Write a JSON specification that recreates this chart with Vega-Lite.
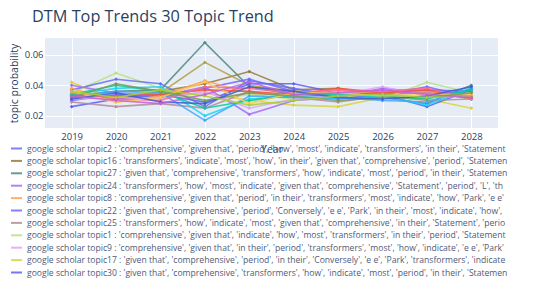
{
  "$schema": "https://vega.github.io/schema/vega-lite/v6.json",
  "width": 453,
  "height": 90,
  "autosize": {"type": "none"},
  "padding": {"left": 45, "top": 38, "right": 52, "bottom": 156},
  "background": "white",
  "title": {
    "text": "DTM Top Trends 30 Topic Trend",
    "anchor": "start",
    "frame": "group",
    "dx": -13,
    "fontSize": 16.3,
    "font": "Open Sans",
    "fontWeight": "normal",
    "color": "#2a3f5f",
    "offset": 13
  },
  "config": {
    "font": "Open Sans",
    "view": {"fill": "#e5ecf6", "stroke": null},
    "axis": {
      "gridColor": "white",
      "gridWidth": 1,
      "domain": false,
      "ticks": false,
      "labelColor": "#2a3f5f",
      "titleColor": "#2a3f5f",
      "labelFontSize": 9.5,
      "titleFontSize": 10.5,
      "titleFontWeight": "normal",
      "labelFont": "Open Sans",
      "titleFont": "Open Sans"
    }
  },
  "datasets": {
    "names": [
      {"topic": "topic2", "name": "google scholar topic2 : 'comprehensive', 'given that', 'period', 'how', 'most', 'indicate', 'transformers', 'in their', 'Statement"},
      {"topic": "topic16", "name": "google scholar topic16 : 'transformers', 'indicate', 'most', 'how', 'in their', 'given that', 'comprehensive', 'period', 'Statemen"},
      {"topic": "topic27", "name": "google scholar topic27 : 'given that', 'comprehensive', 'transformers', 'how', 'indicate', 'most', 'period', 'in their', 'Statemen"},
      {"topic": "topic24", "name": "google scholar topic24 : 'transformers', 'how', 'most', 'indicate', 'given that', 'comprehensive', 'Statement', 'period', 'L', 'th"},
      {"topic": "topic8", "name": "google scholar topic8 : 'comprehensive', 'given that', 'period', 'in their', 'transformers', 'most', 'indicate', 'how', 'Park', 'e e'"},
      {"topic": "topic22", "name": "google scholar topic22 : 'given that', 'comprehensive', 'period', 'Conversely', 'e e', 'Park', 'in their', 'most', 'indicate', 'how',"},
      {"topic": "topic25", "name": "google scholar topic25 : 'transformers', 'how', 'indicate', 'most', 'given that', 'comprehensive', 'in their', 'Statement', 'perio"},
      {"topic": "topic1", "name": "google scholar topic1 : 'comprehensive', 'given that', 'indicate', 'how', 'most', 'transformers', 'in their', 'period', 'Statement"},
      {"topic": "topic9", "name": "google scholar topic9 : 'comprehensive', 'given that', 'in their', 'period', 'transformers', 'most', 'how', 'indicate', 'e e', 'Park'"},
      {"topic": "topic17", "name": "google scholar topic17 : 'given that', 'comprehensive', 'period', 'in their', 'Conversely', 'e e', 'Park', 'transformers', 'indicate"},
      {"topic": "topic30", "name": "google scholar topic30 : 'given that', 'comprehensive', 'transformers', 'how', 'indicate', 'most', 'period', 'in their', 'Statemen"},
      {"topic": "topic3", "name": "google scholar topic3"},
      {"topic": "topic4", "name": "google scholar topic4"},
      {"topic": "topic5", "name": "google scholar topic5"},
      {"topic": "topic6", "name": "google scholar topic6"},
      {"topic": "topic7", "name": "google scholar topic7"},
      {"topic": "topic10", "name": "google scholar topic10"},
      {"topic": "topic11", "name": "google scholar topic11"},
      {"topic": "topic12", "name": "google scholar topic12"},
      {"topic": "topic13", "name": "google scholar topic13"},
      {"topic": "topic14", "name": "google scholar topic14"},
      {"topic": "topic15", "name": "google scholar topic15"}
    ],
    "trend": [
      {"topic": "topic27", "year": 2019, "prob": 0.033}, {"topic": "topic27", "year": 2020, "prob": 0.036}, {"topic": "topic27", "year": 2021, "prob": 0.037}, {"topic": "topic27", "year": 2022, "prob": 0.068}, {"topic": "topic27", "year": 2023, "prob": 0.039}, {"topic": "topic27", "year": 2024, "prob": 0.034}, {"topic": "topic27", "year": 2025, "prob": 0.033}, {"topic": "topic27", "year": 2026, "prob": 0.032}, {"topic": "topic27", "year": 2027, "prob": 0.028}, {"topic": "topic27", "year": 2028, "prob": 0.040},
      {"topic": "topic16", "year": 2019, "prob": 0.032}, {"topic": "topic16", "year": 2020, "prob": 0.031}, {"topic": "topic16", "year": 2021, "prob": 0.036}, {"topic": "topic16", "year": 2022, "prob": 0.041}, {"topic": "topic16", "year": 2023, "prob": 0.049}, {"topic": "topic16", "year": 2024, "prob": 0.037}, {"topic": "topic16", "year": 2025, "prob": 0.038}, {"topic": "topic16", "year": 2026, "prob": 0.034}, {"topic": "topic16", "year": 2027, "prob": 0.036}, {"topic": "topic16", "year": 2028, "prob": 0.031},
      {"topic": "topic3", "year": 2019, "prob": 0.034}, {"topic": "topic3", "year": 2020, "prob": 0.033}, {"topic": "topic3", "year": 2021, "prob": 0.035}, {"topic": "topic3", "year": 2022, "prob": 0.055}, {"topic": "topic3", "year": 2023, "prob": 0.040}, {"topic": "topic3", "year": 2024, "prob": 0.036}, {"topic": "topic3", "year": 2025, "prob": 0.035}, {"topic": "topic3", "year": 2026, "prob": 0.034}, {"topic": "topic3", "year": 2027, "prob": 0.035}, {"topic": "topic3", "year": 2028, "prob": 0.033},
      {"topic": "topic1", "year": 2019, "prob": 0.035}, {"topic": "topic1", "year": 2020, "prob": 0.048}, {"topic": "topic1", "year": 2021, "prob": 0.038}, {"topic": "topic1", "year": 2022, "prob": 0.030}, {"topic": "topic1", "year": 2023, "prob": 0.034}, {"topic": "topic1", "year": 2024, "prob": 0.031}, {"topic": "topic1", "year": 2025, "prob": 0.033}, {"topic": "topic1", "year": 2026, "prob": 0.031}, {"topic": "topic1", "year": 2027, "prob": 0.042}, {"topic": "topic1", "year": 2028, "prob": 0.035},
      {"topic": "topic2", "year": 2019, "prob": 0.037}, {"topic": "topic2", "year": 2020, "prob": 0.044}, {"topic": "topic2", "year": 2021, "prob": 0.041}, {"topic": "topic2", "year": 2022, "prob": 0.026}, {"topic": "topic2", "year": 2023, "prob": 0.043}, {"topic": "topic2", "year": 2024, "prob": 0.038}, {"topic": "topic2", "year": 2025, "prob": 0.033}, {"topic": "topic2", "year": 2026, "prob": 0.035}, {"topic": "topic2", "year": 2027, "prob": 0.037}, {"topic": "topic2", "year": 2028, "prob": 0.036},
      {"topic": "topic17", "year": 2019, "prob": 0.042}, {"topic": "topic17", "year": 2020, "prob": 0.030}, {"topic": "topic17", "year": 2021, "prob": 0.033}, {"topic": "topic17", "year": 2022, "prob": 0.035}, {"topic": "topic17", "year": 2023, "prob": 0.030}, {"topic": "topic17", "year": 2024, "prob": 0.027}, {"topic": "topic17", "year": 2025, "prob": 0.026}, {"topic": "topic17", "year": 2026, "prob": 0.032}, {"topic": "topic17", "year": 2027, "prob": 0.031}, {"topic": "topic17", "year": 2028, "prob": 0.025},
      {"topic": "topic30", "year": 2019, "prob": 0.026}, {"topic": "topic30", "year": 2020, "prob": 0.031}, {"topic": "topic30", "year": 2021, "prob": 0.034}, {"topic": "topic30", "year": 2022, "prob": 0.029}, {"topic": "topic30", "year": 2023, "prob": 0.041}, {"topic": "topic30", "year": 2024, "prob": 0.041}, {"topic": "topic30", "year": 2025, "prob": 0.035}, {"topic": "topic30", "year": 2026, "prob": 0.034}, {"topic": "topic30", "year": 2027, "prob": 0.026}, {"topic": "topic30", "year": 2028, "prob": 0.037},
      {"topic": "topic24", "year": 2019, "prob": 0.040}, {"topic": "topic24", "year": 2020, "prob": 0.035}, {"topic": "topic24", "year": 2021, "prob": 0.033}, {"topic": "topic24", "year": 2022, "prob": 0.039}, {"topic": "topic24", "year": 2023, "prob": 0.021}, {"topic": "topic24", "year": 2024, "prob": 0.030}, {"topic": "topic24", "year": 2025, "prob": 0.032}, {"topic": "topic24", "year": 2026, "prob": 0.038}, {"topic": "topic24", "year": 2027, "prob": 0.035}, {"topic": "topic24", "year": 2028, "prob": 0.033},
      {"topic": "topic22", "year": 2019, "prob": 0.030}, {"topic": "topic22", "year": 2020, "prob": 0.034}, {"topic": "topic22", "year": 2021, "prob": 0.032}, {"topic": "topic22", "year": 2022, "prob": 0.038}, {"topic": "topic22", "year": 2023, "prob": 0.044}, {"topic": "topic22", "year": 2024, "prob": 0.036}, {"topic": "topic22", "year": 2025, "prob": 0.031}, {"topic": "topic22", "year": 2026, "prob": 0.034}, {"topic": "topic22", "year": 2027, "prob": 0.039}, {"topic": "topic22", "year": 2028, "prob": 0.032},
      {"topic": "topic8", "year": 2019, "prob": 0.038}, {"topic": "topic8", "year": 2020, "prob": 0.029}, {"topic": "topic8", "year": 2021, "prob": 0.033}, {"topic": "topic8", "year": 2022, "prob": 0.043}, {"topic": "topic8", "year": 2023, "prob": 0.035}, {"topic": "topic8", "year": 2024, "prob": 0.033}, {"topic": "topic8", "year": 2025, "prob": 0.036}, {"topic": "topic8", "year": 2026, "prob": 0.035}, {"topic": "topic8", "year": 2027, "prob": 0.036}, {"topic": "topic8", "year": 2028, "prob": 0.032},
      {"topic": "topic25", "year": 2019, "prob": 0.029}, {"topic": "topic25", "year": 2020, "prob": 0.026}, {"topic": "topic25", "year": 2021, "prob": 0.028}, {"topic": "topic25", "year": 2022, "prob": 0.025}, {"topic": "topic25", "year": 2023, "prob": 0.036}, {"topic": "topic25", "year": 2024, "prob": 0.032}, {"topic": "topic25", "year": 2025, "prob": 0.029}, {"topic": "topic25", "year": 2026, "prob": 0.033}, {"topic": "topic25", "year": 2027, "prob": 0.030}, {"topic": "topic25", "year": 2028, "prob": 0.031},
      {"topic": "topic9", "year": 2019, "prob": 0.031}, {"topic": "topic9", "year": 2020, "prob": 0.032}, {"topic": "topic9", "year": 2021, "prob": 0.031}, {"topic": "topic9", "year": 2022, "prob": 0.036}, {"topic": "topic9", "year": 2023, "prob": 0.025}, {"topic": "topic9", "year": 2024, "prob": 0.031}, {"topic": "topic9", "year": 2025, "prob": 0.034}, {"topic": "topic9", "year": 2026, "prob": 0.039}, {"topic": "topic9", "year": 2027, "prob": 0.033}, {"topic": "topic9", "year": 2028, "prob": 0.034},
      {"topic": "topic4", "year": 2019, "prob": 0.034}, {"topic": "topic4", "year": 2020, "prob": 0.038}, {"topic": "topic4", "year": 2021, "prob": 0.039}, {"topic": "topic4", "year": 2022, "prob": 0.020}, {"topic": "topic4", "year": 2023, "prob": 0.031}, {"topic": "topic4", "year": 2024, "prob": 0.033}, {"topic": "topic4", "year": 2025, "prob": 0.031}, {"topic": "topic4", "year": 2026, "prob": 0.033}, {"topic": "topic4", "year": 2027, "prob": 0.027}, {"topic": "topic4", "year": 2028, "prob": 0.038},
      {"topic": "topic5", "year": 2019, "prob": 0.033}, {"topic": "topic5", "year": 2020, "prob": 0.036}, {"topic": "topic5", "year": 2021, "prob": 0.035}, {"topic": "topic5", "year": 2022, "prob": 0.017}, {"topic": "topic5", "year": 2023, "prob": 0.033}, {"topic": "topic5", "year": 2024, "prob": 0.032}, {"topic": "topic5", "year": 2025, "prob": 0.032}, {"topic": "topic5", "year": 2026, "prob": 0.030}, {"topic": "topic5", "year": 2027, "prob": 0.029}, {"topic": "topic5", "year": 2028, "prob": 0.038},
      {"topic": "topic6", "year": 2019, "prob": 0.034}, {"topic": "topic6", "year": 2020, "prob": 0.040}, {"topic": "topic6", "year": 2021, "prob": 0.036}, {"topic": "topic6", "year": 2022, "prob": 0.025}, {"topic": "topic6", "year": 2023, "prob": 0.030}, {"topic": "topic6", "year": 2024, "prob": 0.034}, {"topic": "topic6", "year": 2025, "prob": 0.034}, {"topic": "topic6", "year": 2026, "prob": 0.033}, {"topic": "topic6", "year": 2027, "prob": 0.031}, {"topic": "topic6", "year": 2028, "prob": 0.037},
      {"topic": "topic7", "year": 2019, "prob": 0.033}, {"topic": "topic7", "year": 2020, "prob": 0.033}, {"topic": "topic7", "year": 2021, "prob": 0.034}, {"topic": "topic7", "year": 2022, "prob": 0.037}, {"topic": "topic7", "year": 2023, "prob": 0.036}, {"topic": "topic7", "year": 2024, "prob": 0.034}, {"topic": "topic7", "year": 2025, "prob": 0.038}, {"topic": "topic7", "year": 2026, "prob": 0.035}, {"topic": "topic7", "year": 2027, "prob": 0.037}, {"topic": "topic7", "year": 2028, "prob": 0.032},
      {"topic": "topic10", "year": 2019, "prob": 0.035}, {"topic": "topic10", "year": 2020, "prob": 0.031}, {"topic": "topic10", "year": 2021, "prob": 0.030}, {"topic": "topic10", "year": 2022, "prob": 0.039}, {"topic": "topic10", "year": 2023, "prob": 0.038}, {"topic": "topic10", "year": 2024, "prob": 0.035}, {"topic": "topic10", "year": 2025, "prob": 0.037}, {"topic": "topic10", "year": 2026, "prob": 0.036}, {"topic": "topic10", "year": 2027, "prob": 0.038}, {"topic": "topic10", "year": 2028, "prob": 0.031},
      {"topic": "topic11", "year": 2019, "prob": 0.036}, {"topic": "topic11", "year": 2020, "prob": 0.029}, {"topic": "topic11", "year": 2021, "prob": 0.032}, {"topic": "topic11", "year": 2022, "prob": 0.042}, {"topic": "topic11", "year": 2023, "prob": 0.028}, {"topic": "topic11", "year": 2024, "prob": 0.035}, {"topic": "topic11", "year": 2025, "prob": 0.035}, {"topic": "topic11", "year": 2026, "prob": 0.033}, {"topic": "topic11", "year": 2027, "prob": 0.034}, {"topic": "topic11", "year": 2028, "prob": 0.034},
      {"topic": "topic12", "year": 2019, "prob": 0.032}, {"topic": "topic12", "year": 2020, "prob": 0.041}, {"topic": "topic12", "year": 2021, "prob": 0.036}, {"topic": "topic12", "year": 2022, "prob": 0.030}, {"topic": "topic12", "year": 2023, "prob": 0.035}, {"topic": "topic12", "year": 2024, "prob": 0.033}, {"topic": "topic12", "year": 2025, "prob": 0.030}, {"topic": "topic12", "year": 2026, "prob": 0.032}, {"topic": "topic12", "year": 2027, "prob": 0.032}, {"topic": "topic12", "year": 2028, "prob": 0.035},
      {"topic": "topic13", "year": 2019, "prob": 0.031}, {"topic": "topic13", "year": 2020, "prob": 0.035}, {"topic": "topic13", "year": 2021, "prob": 0.029}, {"topic": "topic13", "year": 2022, "prob": 0.028}, {"topic": "topic13", "year": 2023, "prob": 0.039}, {"topic": "topic13", "year": 2024, "prob": 0.036}, {"topic": "topic13", "year": 2025, "prob": 0.032}, {"topic": "topic13", "year": 2026, "prob": 0.031}, {"topic": "topic13", "year": 2027, "prob": 0.033}, {"topic": "topic13", "year": 2028, "prob": 0.039},
      {"topic": "topic14", "year": 2019, "prob": 0.036}, {"topic": "topic14", "year": 2020, "prob": 0.032}, {"topic": "topic14", "year": 2021, "prob": 0.037}, {"topic": "topic14", "year": 2022, "prob": 0.033}, {"topic": "topic14", "year": 2023, "prob": 0.027}, {"topic": "topic14", "year": 2024, "prob": 0.030}, {"topic": "topic14", "year": 2025, "prob": 0.033}, {"topic": "topic14", "year": 2026, "prob": 0.034}, {"topic": "topic14", "year": 2027, "prob": 0.032}, {"topic": "topic14", "year": 2028, "prob": 0.033},
      {"topic": "topic15", "year": 2019, "prob": 0.033}, {"topic": "topic15", "year": 2020, "prob": 0.030}, {"topic": "topic15", "year": 2021, "prob": 0.028}, {"topic": "topic15", "year": 2022, "prob": 0.034}, {"topic": "topic15", "year": 2023, "prob": 0.042}, {"topic": "topic15", "year": 2024, "prob": 0.034}, {"topic": "topic15", "year": 2025, "prob": 0.035}, {"topic": "topic15", "year": 2026, "prob": 0.037}, {"topic": "topic15", "year": 2027, "prob": 0.034}, {"topic": "topic15", "year": 2028, "prob": 0.032}
    ]
  },
  "data": {"name": "trend"},
  "transform": [
    {"lookup": "topic", "from": {"data": {"name": "names"}, "key": "topic", "fields": ["name"]}}
  ],
  "mark": {"type": "line", "strokeWidth": 1.6, "opacity": 0.85, "point": {"size": 14, "filled": true, "shape": "diamond"}},
  "encoding": {
    "x": {
      "field": "year",
      "type": "quantitative",
      "scale": {"domain": [2018.4, 2028.6], "nice": false, "zero": false},
      "axis": {"values": [2019, 2020, 2021, 2022, 2023, 2024, 2025, 2026, 2027, 2028], "format": "d", "title": "Year", "labelPadding": 3, "titlePadding": 4, "labelFlush": false}
    },
    "y": {
      "field": "prob",
      "type": "quantitative",
      "scale": {"domain": [0.012, 0.071], "nice": false, "zero": false},
      "axis": {"values": [0.02, 0.04, 0.06], "format": ".2f", "title": "topic probability", "labelPadding": 2, "titlePadding": 5}
    },
    "color": {
      "field": "name",
      "type": "nominal",
      "scale": {
        "domain": [
          "google scholar topic2 : 'comprehensive', 'given that', 'period', 'how', 'most', 'indicate', 'transformers', 'in their', 'Statement",
          "google scholar topic16 : 'transformers', 'indicate', 'most', 'how', 'in their', 'given that', 'comprehensive', 'period', 'Statemen",
          "google scholar topic27 : 'given that', 'comprehensive', 'transformers', 'how', 'indicate', 'most', 'period', 'in their', 'Statemen",
          "google scholar topic24 : 'transformers', 'how', 'most', 'indicate', 'given that', 'comprehensive', 'Statement', 'period', 'L', 'th",
          "google scholar topic8 : 'comprehensive', 'given that', 'period', 'in their', 'transformers', 'most', 'indicate', 'how', 'Park', 'e e'",
          "google scholar topic22 : 'given that', 'comprehensive', 'period', 'Conversely', 'e e', 'Park', 'in their', 'most', 'indicate', 'how',",
          "google scholar topic25 : 'transformers', 'how', 'indicate', 'most', 'given that', 'comprehensive', 'in their', 'Statement', 'perio",
          "google scholar topic1 : 'comprehensive', 'given that', 'indicate', 'how', 'most', 'transformers', 'in their', 'period', 'Statement",
          "google scholar topic9 : 'comprehensive', 'given that', 'in their', 'period', 'transformers', 'most', 'how', 'indicate', 'e e', 'Park'",
          "google scholar topic17 : 'given that', 'comprehensive', 'period', 'in their', 'Conversely', 'e e', 'Park', 'transformers', 'indicate",
          "google scholar topic30 : 'given that', 'comprehensive', 'transformers', 'how', 'indicate', 'most', 'period', 'in their', 'Statemen",
          "google scholar topic3", "google scholar topic4", "google scholar topic5", "google scholar topic6", "google scholar topic7",
          "google scholar topic10", "google scholar topic11", "google scholar topic12", "google scholar topic13", "google scholar topic14", "google scholar topic15"
        ],
        "range": ["#6a6cf6", "#9a7838", "#4f8a80", "#a46cf8", "#ffa154", "#7468ff", "#b48c98", "#b6e27e", "#e2a2fb", "#d6d63a", "#5f5ff5",
                  "#b0a040", "#19d3f3", "#40a8ff", "#00cc96", "#ef553b", "#ff6692", "#fecb52", "#7a9a5a", "#3a5fd0", "#a8d030", "#c060e0"]
      },
      "legend": {
        "orient": "none",
        "legendX": -35,
        "legendY": 104,
        "title": null,
        "columns": 1,
        "symbolType": "stroke",
        "symbolSize": 120,
        "symbolStrokeWidth": 2,
        "labelFontSize": 8.6,
        "labelColor": "#505a78",
        "labelFont": "Open Sans",
        "labelLimit": 1000,
        "rowPadding": 0.4,
        "labelOffset": 4,
        "values": [
          "google scholar topic2 : 'comprehensive', 'given that', 'period', 'how', 'most', 'indicate', 'transformers', 'in their', 'Statement",
          "google scholar topic16 : 'transformers', 'indicate', 'most', 'how', 'in their', 'given that', 'comprehensive', 'period', 'Statemen",
          "google scholar topic27 : 'given that', 'comprehensive', 'transformers', 'how', 'indicate', 'most', 'period', 'in their', 'Statemen",
          "google scholar topic24 : 'transformers', 'how', 'most', 'indicate', 'given that', 'comprehensive', 'Statement', 'period', 'L', 'th",
          "google scholar topic8 : 'comprehensive', 'given that', 'period', 'in their', 'transformers', 'most', 'indicate', 'how', 'Park', 'e e'",
          "google scholar topic22 : 'given that', 'comprehensive', 'period', 'Conversely', 'e e', 'Park', 'in their', 'most', 'indicate', 'how',",
          "google scholar topic25 : 'transformers', 'how', 'indicate', 'most', 'given that', 'comprehensive', 'in their', 'Statement', 'perio",
          "google scholar topic1 : 'comprehensive', 'given that', 'indicate', 'how', 'most', 'transformers', 'in their', 'period', 'Statement",
          "google scholar topic9 : 'comprehensive', 'given that', 'in their', 'period', 'transformers', 'most', 'how', 'indicate', 'e e', 'Park'",
          "google scholar topic17 : 'given that', 'comprehensive', 'period', 'in their', 'Conversely', 'e e', 'Park', 'transformers', 'indicate",
          "google scholar topic30 : 'given that', 'comprehensive', 'transformers', 'how', 'indicate', 'most', 'period', 'in their', 'Statemen"
        ]
      }
    }
  }
}
